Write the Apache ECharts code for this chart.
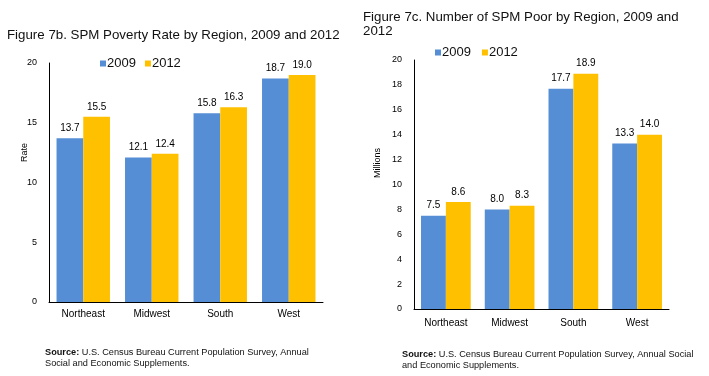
<!DOCTYPE html>
<html>
<head>
<meta charset="utf-8">
<script src="https://cdn.jsdelivr.net/npm/echarts@6/dist/echarts.min.js"></script>
<style>
  html, body { margin: 0; padding: 0; background: #fff; }
  #chart { width: 709px; height: 376px; }
</style>
</head>
<body>
<div id="chart"></div>
<script>
// data
const regions = ['Northeast', 'Midwest', 'South', 'West'];
const rate2009 = [13.7, 12.1, 15.8, 18.7];
const rate2012 = [15.5, 12.4, 16.3, 19.0];
const poor2009 = [7.5, 8.0, 17.7, 13.3];
const poor2012 = [8.6, 8.3, 18.9, 14.0];

const BLUE = '#558ed5';
const GOLD = '#ffc000';
const FONT = 'Arial, "Liberation Sans", sans-serif';

const chart = echarts.init(document.getElementById('chart'));

// namePad pushes the rotated axis name up from the middle of the axis
function yAxis(gridIndex, name, max, interval, nameGap, namePad) {
  return {
    type: 'value',
    gridIndex: gridIndex,
    min: 0,
    max: max,
    interval: interval,
    name: name,
    nameLocation: 'middle',
    nameGap: nameGap,
    nameMoveOverlap: false,
    nameTextStyle: { fontSize: 9, color: '#000', fontFamily: FONT, padding: [0, 0, 0, namePad] },
    axisLine: { show: true, lineStyle: { color: '#000', width: 1 } },
    axisTick: { show: false },
    splitLine: { show: false },
    axisLabel: { fontSize: 9, color: '#000', fontFamily: FONT, margin: 12 }
  };
}

function xAxis(gridIndex, margin) {
  return {
    type: 'category',
    gridIndex: gridIndex,
    data: regions,
    axisLine: { lineStyle: { color: '#000', width: 1 } },
    axisTick: { show: false },
    axisLabel: { fontSize: 10, color: '#000', fontFamily: FONT, margin: margin }
  };
}

function bars(name, data, color, idx) {
  return {
    name: name,
    type: 'bar',
    xAxisIndex: idx,
    yAxisIndex: idx,
    data: data,
    barGap: '0%',
    barCategoryGap: '22%',
    itemStyle: { color: color },
    label: {
      show: true,
      position: 'top',
      distance: 5,
      fontSize: 10,
      color: '#000',
      fontFamily: FONT,
      formatter: p => p.value.toFixed(1)
    }
  };
}

const legendText = { fontSize: 13, color: '#111', fontFamily: FONT, padding: [0, 0, 0, -4] };

const option = {
  animation: false,
  textStyle: { fontFamily: FONT },
  title: [
    {
      text: 'Figure 7b. SPM Poverty Rate by Region, 2009 and 2012',
      left: 7, top: 29, padding: 0,
      textStyle: { fontSize: 13.3, fontWeight: 'normal', color: '#111', fontFamily: FONT }
    },
    {
      text: 'Figure 7c. Number of SPM Poor by Region, 2009 and\n2012',
      left: 363, top: 10, padding: 0,
      textStyle: { fontSize: 13.3, fontWeight: 'normal', color: '#111', fontFamily: FONT, lineHeight: 14 }
    }
  ],
  legend: [
    {
      left: 100, top: 57, padding: 0,
      itemWidth: 6, itemHeight: 6, itemGap: 9,
      icon: 'rect',
      textStyle: legendText,
      data: ['2009', '2012']
    },
    {
      left: 435, top: 46, padding: 0,
      itemWidth: 6, itemHeight: 6, itemGap: 11,
      icon: 'rect',
      textStyle: legendText,
      data: ['2009', '2012']
    }
  ],
  grid: [
    { left: 49, right: 386, top: 63, bottom: 74 },
    { left: 414, right: 40, top: 60, bottom: 67 }
  ],
  xAxis: [xAxis(0, 7), xAxis(1, 9)],
  yAxis: [yAxis(0, 'Rate', 20, 5, 20, 60), yAxis(1, 'Millions', 20, 2, 32, 43)],
  series: [
    bars('2009', rate2009, BLUE, 0),
    bars('2012', rate2012, GOLD, 0),
    bars('2009', poor2009, BLUE, 1),
    bars('2012', poor2012, GOLD, 1)
  ],
  graphic: [
    {
      type: 'text', left: 45, top: 347,
      style: {
        text: '{b|Source:} U.S. Census Bureau Current Population Survey, Annual\nSocial and Economic Supplements.',
        fill: '#111', font: '9.2px ' + FONT, lineHeight: 11,
        rich: { b: { fontWeight: 'bold', fontSize: 9.2, fontFamily: FONT } }
      }
    },
    {
      type: 'text', left: 402, top: 349,
      style: {
        text: '{b|Source:} U.S. Census Bureau Current Population Survey, Annual Social\nand Economic Supplements.',
        fill: '#111', font: '9.2px ' + FONT, lineHeight: 11,
        rich: { b: { fontWeight: 'bold', fontSize: 9.2, fontFamily: FONT } }
      }
    }
  ]
};

chart.setOption(option);
</script>
</body>
</html>
